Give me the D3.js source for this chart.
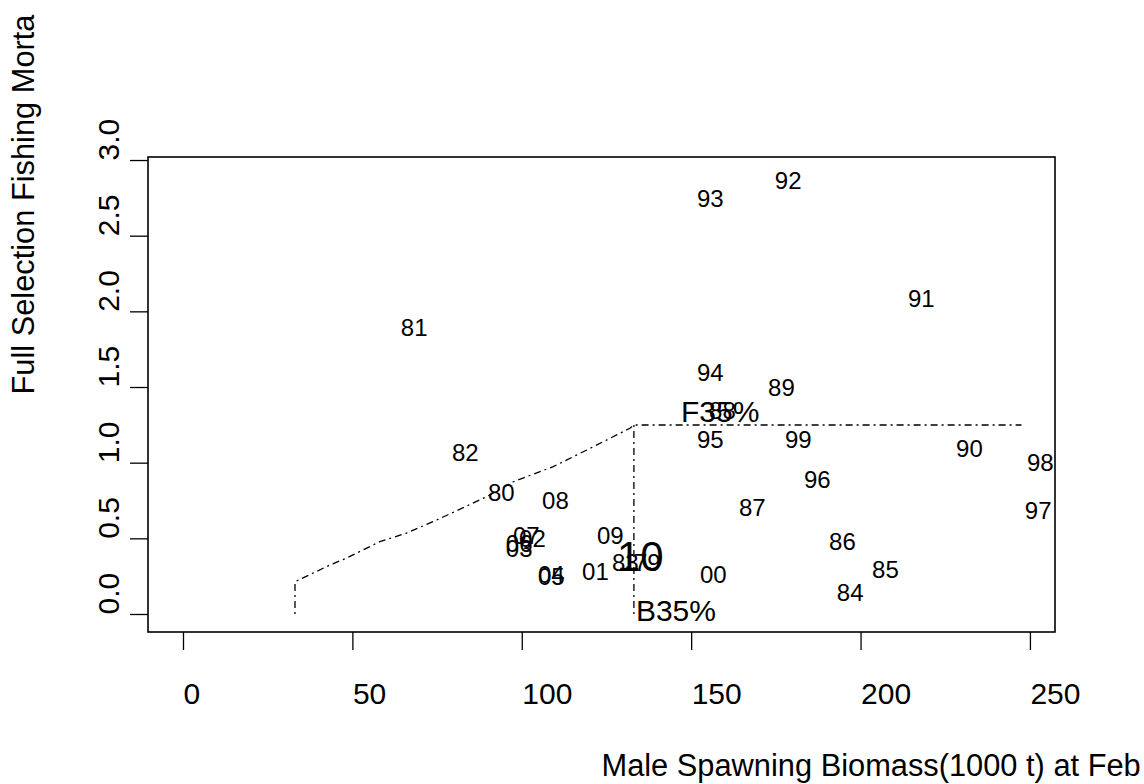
<!DOCTYPE html>
<html><head><meta charset="utf-8">
<script src="https://cdn.jsdelivr.net/npm/d3@7"></script>
<style>
html,body{margin:0;padding:0;background:#fff;}
svg{display:block;font-family:"Liberation Sans",Arial,Helvetica,sans-serif;}
</style></head>
<body>
<svg id="chart" width="1144" height="784"></svg>
<script>
// ---- data ----
const years = ["79","80","81","82","83","84","85","86","87","88","89","90","91","92","93","94","95","96","97","98","99","00","01","02","03","04","05","06","07","08","09"];
const biomass = [133.1,90.0,64.3,79.4,126.6,193.0,203.4,190.7,164.1,155.3,172.7,228.2,214.0,174.7,151.7,151.7,151.7,183.3,248.5,249.1,177.7,152.6,117.8,99.2,95.3,104.8,104.8,95.3,97.4,106.0,122.2];
const fishingF = [0.337,0.806,1.890,1.064,0.337,0.139,0.291,0.482,0.701,1.342,1.494,1.091,2.082,2.868,2.749,1.593,1.150,0.886,0.687,0.998,1.150,0.258,0.278,0.496,0.436,0.258,0.245,0.469,0.516,0.753,0.522];
const lastYear = ["10"];
const lastBiomass = [128.1];
const lastF = [0.383];
const ruleB = [33.06,33.06,43.4,48.3,58.1,66.0,74.9,89.6,97.5,109.3,119.2,131.9,133.1,247.5];
const ruleF = [0,0.213,0.324,0.370,0.478,0.535,0.621,0.775,0.874,0.974,1.084,1.227,1.249,1.249];
const b35 = [133.1];
const f35 = [1.249];
const refLabels = ["F35%","B35%"];
const refLabelB = [147.0,133.7];
const refLabelF = [1.335,0.02];
const xTicks = [0,50,100,150,200,250];
const yTicks = [0,0.5,1,1.5,2,2.5,3];
const yTickLabels = ["0.0","0.5","1.0","1.5","2.0","2.5","3.0"];
const xTitle = "Male Spawning Biomass(1000 t) at Feb";
const yTitle = "Full Selection Fishing Morta";

// ---- layout ----
const L=148, R=1055, T=157, B=632;
const x = d3.scaleLinear().domain([-10.33,257.4]).range([L,R]);
const y = d3.scaleLinear().domain([-0.119,3.020]).range([B,T]);
const svg = d3.select("#chart");
const dash = "2,4,7,4";

// box
svg.append("rect").attr("x",L).attr("y",T).attr("width",R-L).attr("height",B-T)
  .attr("fill","none").attr("stroke","#000").attr("stroke-width",1.6);

// x axis
const xAxis = d3.axisBottom(x).tickValues(xTicks).tickSize(18).tickFormat(d3.format("d"));
const gx = svg.append("g").attr("transform",`translate(0,${B})`).call(xAxis);
gx.select(".domain").remove();
gx.selectAll(".tick line").attr("stroke","#000").attr("stroke-width",1.3);
gx.selectAll(".tick text").attr("font-size",30).attr("fill","#000")
  .attr("text-anchor","start").attr("y",72).attr("dy",0).attr("font-family","Liberation Sans, Arial, sans-serif");

// y axis
const yAxis = d3.axisLeft(y).tickValues(yTicks).tickSize(18).tickFormat((d,i)=>yTickLabels[i]);
const gy = svg.append("g").attr("transform",`translate(${L},0)`).call(yAxis);
gy.select(".domain").remove();
gy.selectAll(".tick line").attr("stroke","#000").attr("stroke-width",1.3);
gy.selectAll(".tick text").attr("font-size",30).attr("fill","#000")
  .attr("x",null).attr("dy",null)
  .attr("text-anchor","start")
  .attr("transform","translate(-29.5,0) rotate(-90)")
  .attr("font-family","Liberation Sans, Arial, sans-serif");

// titles
svg.append("text").attr("x",(L+R)/2).attr("y",776).attr("font-size",30.8)
  .attr("text-anchor","start").text(xTitle);
svg.append("text").attr("transform",`translate(34,${(T+B)/2}) rotate(-90)`)
  .attr("font-size",30.8).attr("text-anchor","start").text(yTitle);

// control rule
const line = d3.line().x(d=>x(d[0])).y(d=>y(d[1]));
svg.append("path").datum(ruleB.map((b,i)=>[b,ruleF[i]]))
  .attr("d",line).attr("fill","none").attr("stroke","#000").attr("stroke-width",1.3)
  .attr("stroke-dasharray",dash);
svg.append("path").datum([[b35[0],f35[0]],[b35[0],0]])
  .attr("d",line).attr("fill","none").attr("stroke","#000").attr("stroke-width",1.3)
  .attr("stroke-dasharray",dash);

// reference labels
svg.selectAll("text.ref").data(refLabels).enter().append("text").attr("class","ref")
  .attr("x",(d,i)=>x(refLabelB[i])).attr("y",(d,i)=>y(refLabelF[i]))
  .attr("dominant-baseline","central").attr("font-size",30).text(d=>d);

// year labels
svg.selectAll("text.yr").data(years).enter().append("text").attr("class","yr")
  .attr("x",(d,i)=>x(biomass[i])).attr("y",(d,i)=>y(fishingF[i]))
  .attr("dominant-baseline","central").attr("font-size",24).text(d=>d);
svg.selectAll("text.last").data(lastYear).enter().append("text").attr("class","last")
  .attr("x",(d,i)=>x(lastBiomass[i])).attr("y",(d,i)=>y(lastF[i]))
  .attr("dominant-baseline","central").attr("font-size",42).text(d=>d);
</script>
</body></html>
